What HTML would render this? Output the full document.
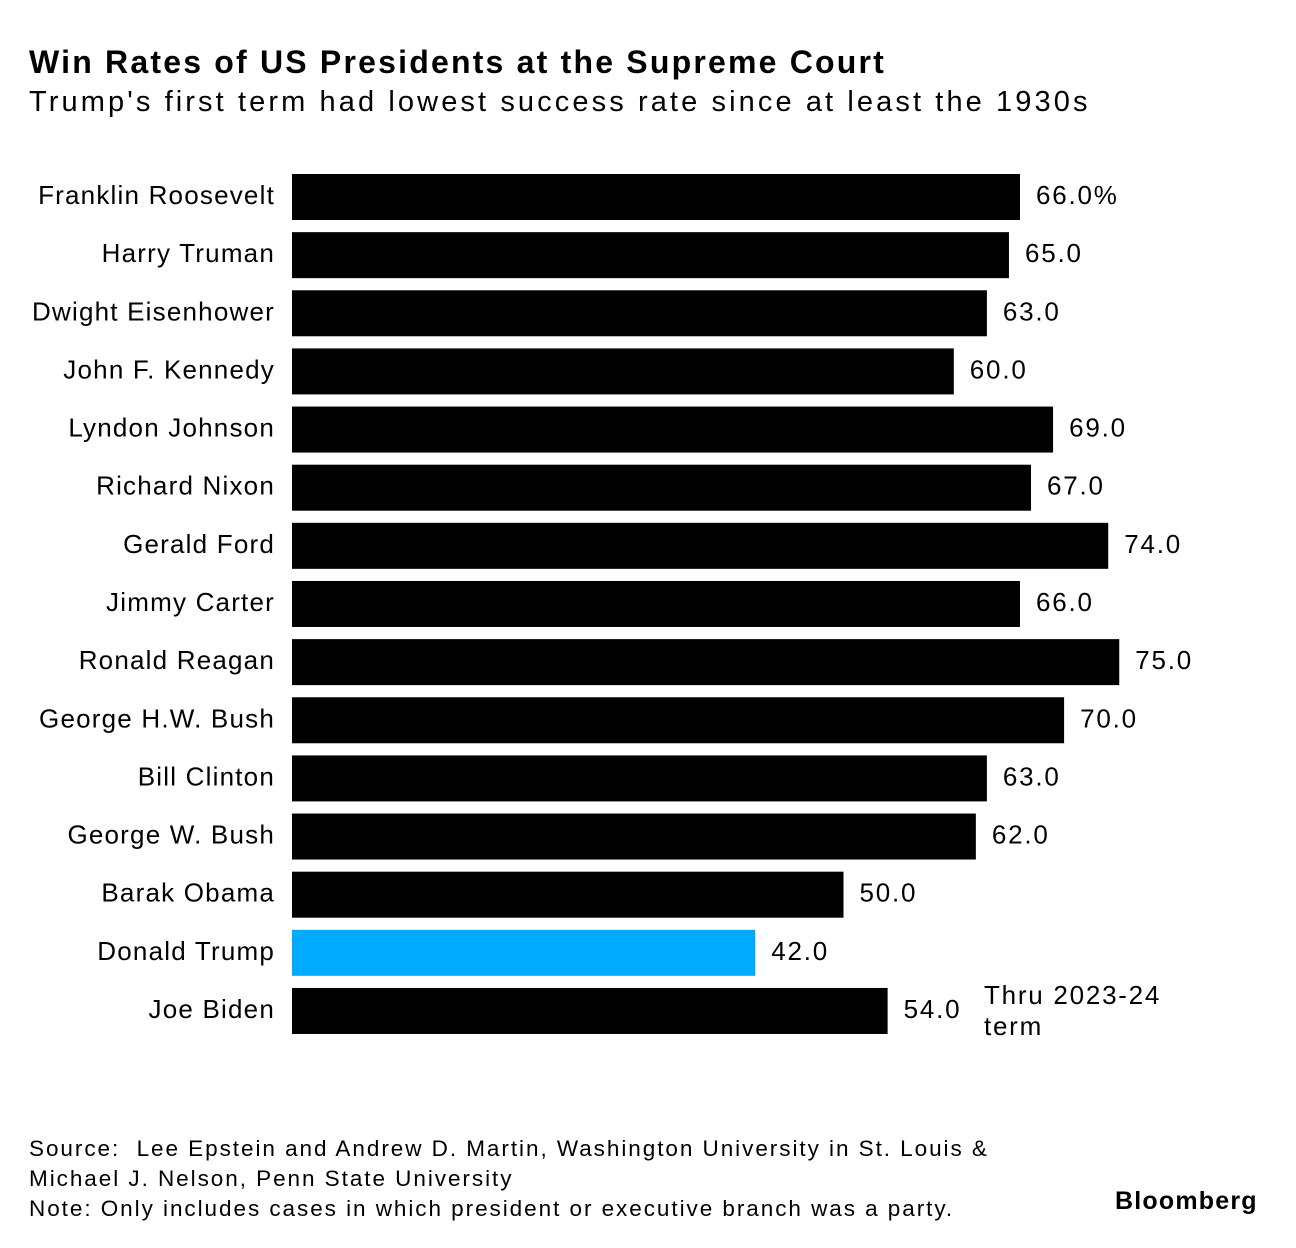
<!DOCTYPE html>
<html><head><meta charset="utf-8"><style>
body{margin:0;background:#fff;font-family:"Liberation Sans",sans-serif;color:#000}
#wrap{position:relative;width:1296px;height:1248px;overflow:hidden}
.t{position:absolute;white-space:nowrap}
</style></head><body><div id="wrap">
<div class="t" style="left:29px;top:44px;font-size:32px;font-weight:bold;letter-spacing:2.2px">Win Rates of US Presidents at the Supreme Court</div>
<div class="t" style="left:29px;top:86px;font-size:29px;letter-spacing:3.1px">Trump's first term had lowest success rate since at least the 1930s</div>
<svg id="plot" width="1296" height="1248" style="position:absolute;left:0;top:0"></svg>
<div class="t" style="left:29px;top:1134px;font-size:22.5px;line-height:30px;letter-spacing:1.95px">Source:&nbsp; Lee Epstein and Andrew D. Martin, Washington University in St. Louis &amp;<br>Michael J. Nelson, Penn State University<br>Note: Only includes cases in which president or executive branch was a party.</div>
<div class="t" style="left:1115px;top:1187px;font-size:25px;font-weight:bold;letter-spacing:1.2px">Bloomberg</div>
</div>
<script>
const categories=["Franklin Roosevelt","Harry Truman","Dwight Eisenhower","John F. Kennedy","Lyndon Johnson","Richard Nixon","Gerald Ford","Jimmy Carter","Ronald Reagan","George H.W. Bush","Bill Clinton","George W. Bush","Barak Obama","Donald Trump","Joe Biden"];
const values=[66,65,63,60,69,67,74,66,75,70,63,62,50,42,54];
const valueLabels=["66.0%","65.0","63.0","60.0","69.0","67.0","74.0","66.0","75.0","70.0","63.0","62.0","50.0","42.0","54.0"];
const highlight="Donald Trump";
const svg=document.getElementById('plot');
const NS="http://www.w3.org/2000/svg";
const x0=292,scale=11.03,y0=174,pitch=58.14,bh=46;
const xs=v=>v*scale;
const ys=i=>y0+i*pitch;
categories.forEach((c,i)=>{
  const y=ys(i);
  const r=document.createElementNS(NS,'rect');
  r.setAttribute('x',x0);r.setAttribute('y',y);r.setAttribute('width',xs(values[i]));r.setAttribute('height',bh);
  r.setAttribute('fill',c===highlight?'#00aaff':'#000');
  
  
  svg.appendChild(r);
  const l=document.createElementNS(NS,'text');
  l.setAttribute('x',275);l.setAttribute('y',y+bh/2+7);l.setAttribute('text-anchor','end');
  l.setAttribute('font-size','26');l.setAttribute('font-family','Liberation Sans, sans-serif');
  l.setAttribute('letter-spacing','1.2');
  l.textContent=c;
  
  
  svg.appendChild(l);
  const v=document.createElementNS(NS,'text');
  v.setAttribute('x',x0+xs(values[i])+16);v.setAttribute('y',y+bh/2+7);
  v.setAttribute('font-size','26');v.setAttribute('font-family','Liberation Sans, sans-serif');
  v.setAttribute('letter-spacing','1.8');
  v.textContent=valueLabels[i];
  
  
  svg.appendChild(v);
});
const n1=document.createElementNS(NS,'text');
n1.setAttribute('x',984);n1.setAttribute('y',ys(14)+16);n1.setAttribute('font-size','26');n1.setAttribute('font-family','Liberation Sans, sans-serif');
n1.setAttribute('letter-spacing','1.75');
n1.textContent='Thru 2023-24';


svg.appendChild(n1);
const n2=document.createElementNS(NS,'text');
n2.setAttribute('x',984);n2.setAttribute('y',ys(14)+47);n2.setAttribute('font-size','26');n2.setAttribute('font-family','Liberation Sans, sans-serif');
n2.setAttribute('letter-spacing','1.75');
n2.textContent='term';


svg.appendChild(n2);
</script></body></html>
